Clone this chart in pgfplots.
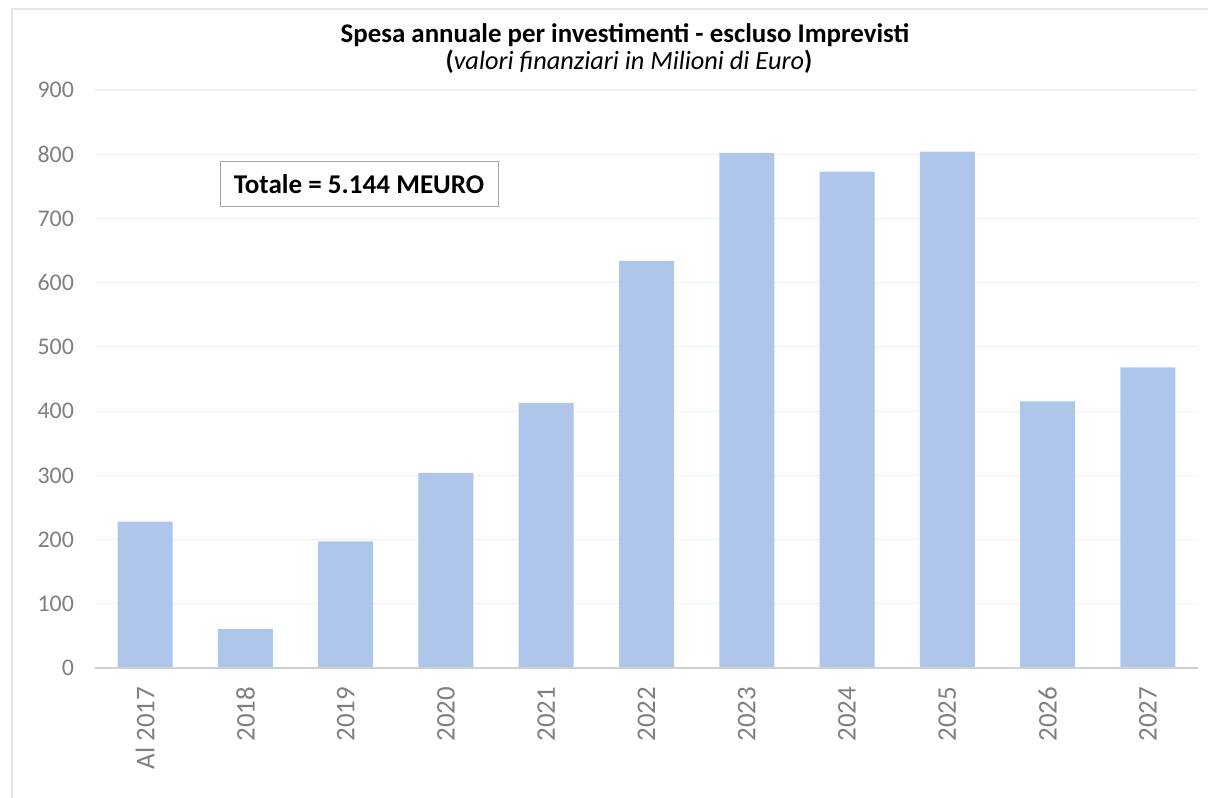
\documentclass[border=0pt]{standalone}
\usepackage{pgfplots}
\pgfplotsset{compat=1.18}
\usepackage{fontspec}
\setmainfont{Carlito}
\definecolor{barblue}{HTML}{ADC6EA}
\definecolor{ticklab}{HTML}{7F7F7F}
\definecolor{gridc}{HTML}{F0F0F0}
\definecolor{axisc}{HTML}{D0D0D0}
\begin{document}
\begin{tikzpicture}
\useasboundingbox (-47.5bp,-65bp) rectangle (556.5bp,334bp);
\draw[black!10, line width=1.2bp] (-41.5bp,-65bp) -- (-41.5bp,329.5bp) -- (556.5bp,329.5bp);
\begin{axis}[
  at={(0,0)}, anchor=south west,
  scale only axis,
  width=551.5bp, height=289bp,
  ybar, bar width=27.5bp,
  xmin=-0.5, xmax=10.5,
  ymin=0, ymax=900,
  ytick={0,100,...,900},
  xtick={0,...,10},
  xticklabels={Al 2017,2018,2019,2020,2021,2022,2023,2024,2025,2026,2027},
  x tick label style={rotate=90, anchor=east, font=\fontsize{13.5}{15}\selectfont, text=ticklab},
  y tick label style={font=\fontsize{12}{15}\selectfont, text=ticklab},
  /pgf/number format/assume math mode=true,
  ymajorgrids, grid style={gridc, line width=0.6bp},
  axis line style={draw=none},
  major tick length=0pt,
  xticklabel shift=6bp,
  yticklabel shift=7bp,
  clip=false,
]
\addplot[fill=barblue, draw=none] coordinates {
 (0,228) (1,61) (2,197) (3,304) (4,413) (5,634) (6,802) (7,773) (8,804) (9,415) (10,468)
};
\draw[axisc, line width=1bp] (axis cs:-0.5,0) -- (axis cs:10.5,0);
\end{axis}
\node[font=\fontsize{13.5}{15}\selectfont\bfseries] at (265bp,316.5bp) {Spesa annuale per investimenti - escluso Imprevisti};
\node[font=\fontsize{13.2}{15}\selectfont] at (267bp,303bp) {\textbf{(}\textit{valori finanziari in Milioni di Euro}\textbf{)}};
\node[draw=black!35, line width=0.5bp, fill=white, minimum width=139bp, minimum height=22.5bp, font=\fontsize{13.6}{15}\selectfont\bfseries] at (132bp,241.75bp) {Totale = 5.144 MEURO};
\end{tikzpicture}
\end{document}
